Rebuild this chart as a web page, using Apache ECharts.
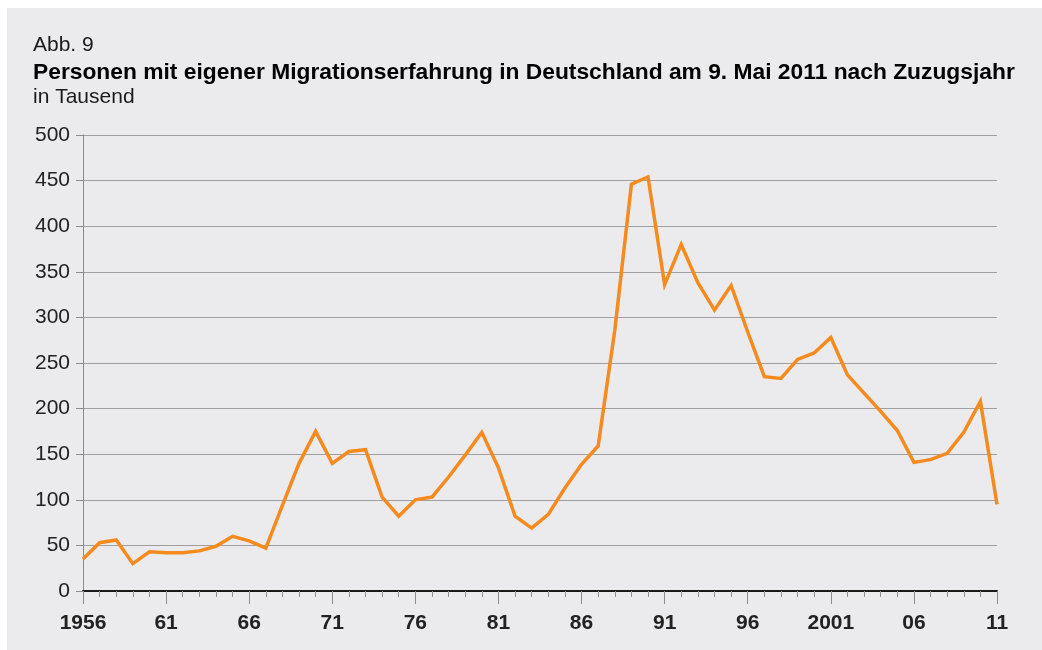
<!DOCTYPE html>
<html lang="de">
<head>
    <meta charset="UTF-8">
    <title>Abb. 9</title>
    <script src="https://cdn.jsdelivr.net/npm/echarts@6/dist/echarts.min.js"></script>
    <style>
        body { margin: 0; background: #ffffff; }
        #box { position: absolute; left: 7px; top: 8px; width: 1035px; height: 642px; background: #ebebed; }
        #main { position: absolute; left: -7px; top: -8px; width: 1042px; height: 650px; }
    </style>
</head>
<body>
<div id="box"><div id="main"></div></div>
<script>
    // Zuzugsjahre 1956 - 2011
    var years = [];
    for (var y = 1956; y <= 2011; y++) years.push(String(y));
    // Beschriftung der Hauptstriche
    var tickLabels = ['1956', '61', '66', '71', '76', '81', '86', '91', '96', '2001', '06', '11'];
    // Personen in Tausend
    var persons = [
        35, 53, 56, 30, 43, 42, 42, 44, 49, 60,
        55, 47, 94, 140, 175, 140, 153, 155, 103, 82,
        100, 103, 125, 149, 174, 135, 82, 69, 84, 113,
        139, 159, 286, 446, 454, 336, 380, 338, 308, 335,
        284, 235, 233, 254, 261, 278, 237, 217, 197, 176,
        141, 144, 151, 174, 208, 95
    ];
    var yTicks = [0, 50, 100, 150, 200, 250, 300, 350, 400, 450, 500];

    var chart = echarts.init(document.getElementById('main'));
    var font = 'Liberation Sans';
    var option = {
        backgroundColor: 'transparent',
        animation: false,
        title: [
            {
                text: 'Abb. 9', left: 33, top: 35, padding: 0,
                textStyle: {fontFamily: font, fontSize: 21, fontWeight: 'normal', color: '#1a1a1a'}
            },
            {
                text: 'Personen mit eigener Migrationserfahrung in Deutschland am 9. Mai 2011 nach Zuzugsjahr',
                left: 33, top: 61, padding: 0,
                textStyle: {fontFamily: font, fontSize: 22.8, fontWeight: 'bold', color: '#000'}
            },
            {
                text: 'in Tausend', left: 33, top: 87, padding: 0,
                textStyle: {fontFamily: font, fontSize: 21, fontWeight: 'normal', color: '#1a1a1a'}
            }
        ],
        grid: {left: 83, right: 45, top: 135, bottom: 59},
        xAxis: [
            {
                type: 'category',
                boundaryGap: false,
                data: years,
                axisLine: {lineStyle: {color: '#1a1a1a', width: 2}},
                axisTick: {interval: 0, length: 6, lineStyle: {color: '#8c8c8c', width: 1}},
                axisLabel: {show: false},
                splitLine: {show: false}
            },
            {
                type: 'category',
                boundaryGap: false,
                position: 'bottom',
                data: years,
                axisLine: {show: false},
                axisTick: {interval: 4, length: 13, lineStyle: {color: '#8c8c8c', width: 1}},
                axisLabel: {
                    interval: 4,
                    margin: 22,
                    fontFamily: font,
                    fontSize: 21,
                    fontWeight: 'bold',
                    color: '#222',
                    formatter: function (v, i) {
                        return tickLabels[i / 5];
                    }
                },
                splitLine: {show: false}
            }
        ],
        yAxis: {
            type: 'value',
            min: yTicks[0],
            max: yTicks[yTicks.length - 1],
            interval: 50,
            axisLine: {show: true, lineStyle: {color: '#8c8c8c', width: 1}},
            axisTick: {show: true, length: 7, lineStyle: {color: '#8c8c8c'}},
            axisLabel: {
                margin: 13,
                fontFamily: font,
                fontSize: 21,
                color: '#222'
            },
            splitLine: {lineStyle: {color: '#9f9f9f', width: 1}}
        },
        series: [
            {
                name: 'Personen',
                type: 'line',
                data: persons,
                symbol: 'none',
                lineStyle: {color: '#f58a1f', width: 3.5, join: 'miter'},
                z: 5
            }
        ]
    };
    chart.setOption(option);
</script>
</body>
</html>
